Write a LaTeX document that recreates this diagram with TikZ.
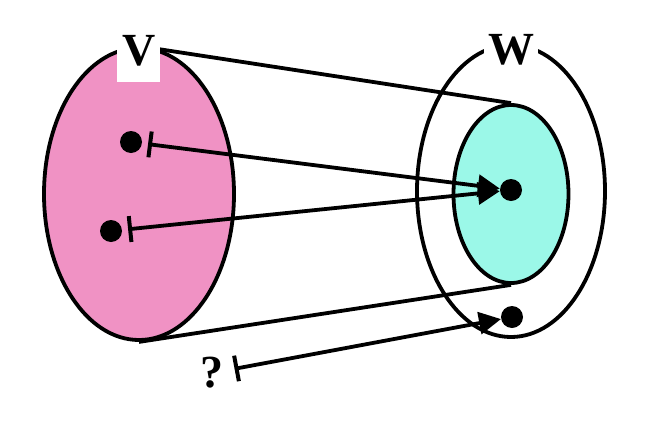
\documentclass[tikz,border=0pt]{standalone}
\usepackage{fontspec}
\setmainfont{Liberation Serif}
\usetikzlibrary{shapes.geometric,arrows.meta}
\definecolor{setcolor0000}{RGB}{240,146,196}
\definecolor{setcolor0001}{RGB}{155,248,232}
\definecolor{setcolor0002}{RGB}{0,0,0}
\begin{document}
\begin{tikzpicture}[yscale=-1
,sstyle0/.style={ellipse,draw=setcolor0002,line width=3.8pt,inner sep=0pt}
,sstyle1/.style={circle,fill=setcolor0002,inner sep=0pt,minimum size=22pt}
,sstyle2/.style={color=setcolor0002,line width=3.8pt}
,sstyle3/.style={sstyle2,{Bar[width=26pt,line width=4pt]}-{Triangle[width=22pt,length=22pt]}}
,sstyle4/.style={font=\fontsize{46}{46}\selectfont\bfseries,inner sep=2pt}
]
\useasboundingbox (0pt,0pt) rectangle (649pt,421pt);
\node at (511pt,191pt)[sstyle0,minimum width=188pt,minimum height=292pt] (Wout){};
\node at (511pt,194pt)[sstyle0,fill=setcolor0001,minimum width=115pt,minimum height=178pt] (Win){};
\node at (139pt,194pt)[sstyle0,fill=setcolor0000,minimum width=190pt,minimum height=292pt] (V){};
\draw[sstyle2] (V.north) -- (Win.north);
\draw[sstyle2] (V.south) -- (Win.south);
\node at (138.5pt,57.5pt)[fill=white,minimum width=43pt,minimum height=49pt,inner sep=0pt] (Vbox){};
\node at (139pt,51pt)[sstyle4] (Vlabel){V};
\node at (511pt,50pt)[sstyle4,fill=white,minimum width=54pt] (Wlabel){W};
\node at (131pt,142pt)[sstyle1] (v1){};
\node at (111pt,231pt)[sstyle1] (v2){};
\node at (511pt,190pt)[sstyle1] (w1){};
\node at (512pt,317pt)[sstyle1] (w2){};
\node at (212pt,373pt)[sstyle4] (q){?};
\draw[sstyle3,shorten <=6pt] (v1) -- (w1);
\draw[sstyle3,shorten <=6pt] (v2) -- (w1);
\draw[sstyle3,shorten <=9pt] (q) -- (w2);
\end{tikzpicture}
\end{document}
